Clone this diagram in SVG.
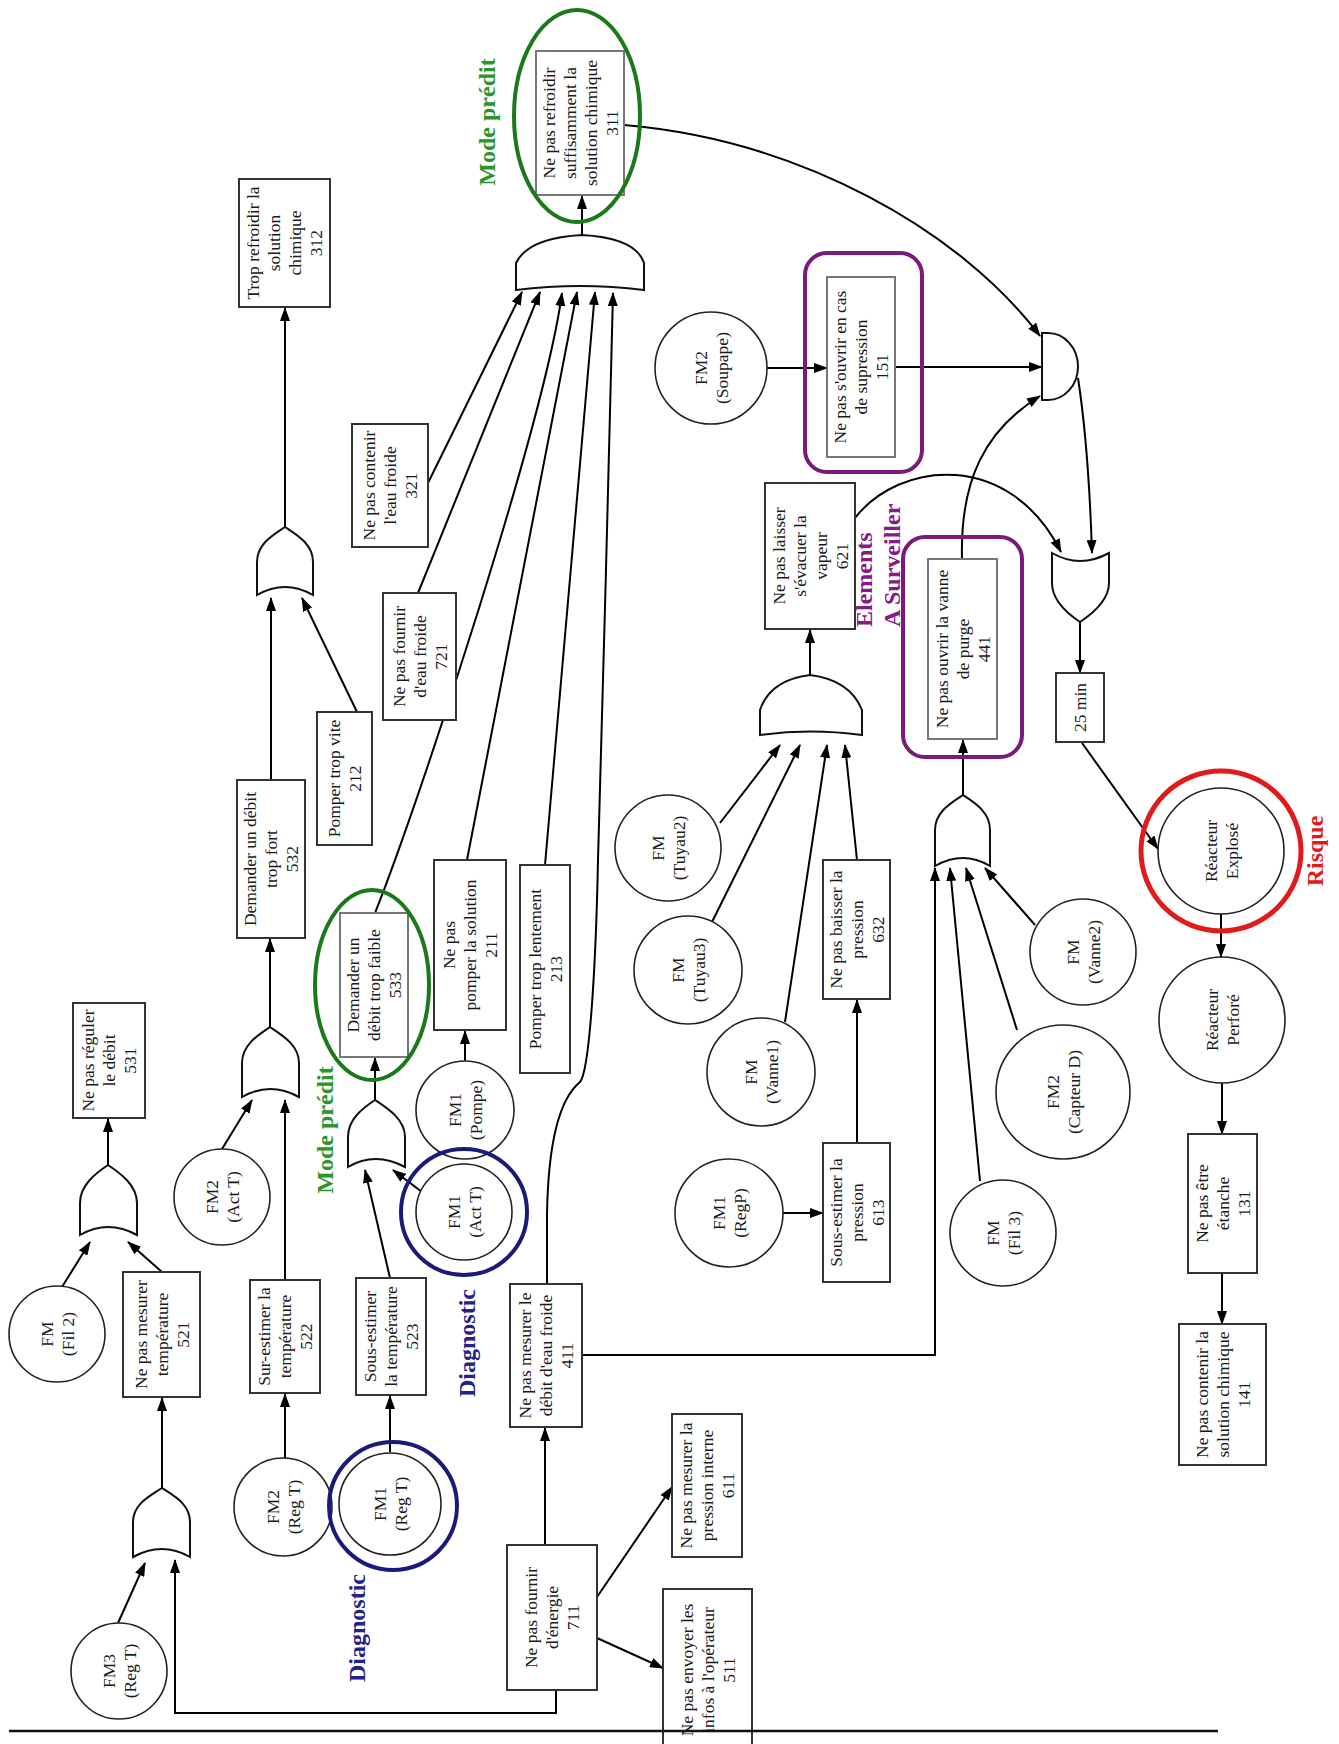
<svg xmlns="http://www.w3.org/2000/svg" width="1339" height="1744" viewBox="0 0 1339 1744">
<style>
.box{fill:#fff;stroke:#333;stroke-width:2}
.ibox{fill:#fff;stroke:#777;stroke-width:2}
.cir{fill:#fff;stroke:#222;stroke-width:1.6}
.gate{fill:#fff;stroke:#111;stroke-width:2}
.c{fill:none;stroke:#000;stroke-width:2;marker-end:url(#ah)}
.p{fill:none;stroke:#000;stroke-width:2}
.t{font-family:"Liberation Serif","Times New Roman",serif;font-size:17.5px;fill:#1a1a1a;text-anchor:middle;dominant-baseline:central}
.lb{font-family:"Liberation Serif","Times New Roman",serif;font-weight:bold;font-size:24px;text-anchor:middle;dominant-baseline:central}
.green{fill:#2a962a}.blue{fill:#22228a}.purple{fill:#861a86}.red{fill:#e01b1b}
.gring{fill:none;stroke:#1a7a1a;stroke-width:4}
.bring{fill:none;stroke:#1a1a7a;stroke-width:4}
.pring{fill:none;stroke:#7a1a7a;stroke-width:4}
.rring{fill:none;stroke:#e01b1b;stroke-width:5}
</style>
<defs>
<marker id="ah" viewBox="0 0 14 10" refX="13" refY="5" markerWidth="14" markerHeight="10" markerUnits="userSpaceOnUse" orient="auto"><path d="M0,0 L14,5 L0,10 Z" fill="#000"/></marker>
</defs>

<g id="connectors">
<path class="c" d="M285,527 L285,308"/>
<path class="c" d="M271,780 L271,598"/>
<path class="c" d="M357,712 L302,598"/>
<path class="c" d="M582,235 L582,196"/>
<path class="c" d="M428,483 L522,292"/>
<path class="c" d="M418,593 L540,292"/>
<path class="c" d="M375,913 C420,800 545,420 562,293"/>
<path class="c" d="M467,860 L577,292"/>
<path class="c" d="M545,865 L595,292"/>
<path class="c" d="M547,1284 L547,1215 C548,1150 558,1100 580,1082 C590,1070 596,960 598,860 C602,700 610,450 613,293"/>
<path class="c" d="M624,125 C800,140 960,230 1040,336"/>
<path class="c" d="M767,368 L827,368"/>
<path class="c" d="M895,367 L1042,367"/>
<path class="c" d="M962,559 C960,480 985,430 1040,396"/>
<path class="c" d="M1078,378 C1086,430 1090,490 1092,553"/>
<path class="c" d="M855,518 C900,460 1010,450 1061,552"/>
<path class="c" d="M1080,622 L1080,673"/>
<path class="c" d="M1082,743 L1158,849"/>
<path class="c" d="M1221,914 L1221,957"/>
<path class="c" d="M1222,1083 L1222,1134"/>
<path class="c" d="M1222,1273 L1222,1324"/>
<path class="c" d="M810,675 L810,630"/>
<path class="c" d="M720,823 L780,745"/>
<path class="c" d="M712,922 L800,745"/>
<path class="c" d="M785,1022 L827,745"/>
<path class="c" d="M857,860 L845,745"/>
<path class="c" d="M857,1143 L857,1000"/>
<path class="c" d="M783,1213 L823,1213"/>
<path class="c" d="M963,795 L963,740"/>
<path class="c" d="M582,1355 L935,1355 L935,868"/>
<path class="c" d="M980,1181 L950,868"/>
<path class="c" d="M1017,1030 L966,868"/>
<path class="c" d="M1035,925 L985,868"/>
<path class="c" d="M270,1027 L270,939"/>
<path class="c" d="M222,1149 L252,1100"/>
<path class="c" d="M285,1280 L285,1100"/>
<path class="c" d="M285,1458 L285,1394"/>
<path class="c" d="M375,1100 L375,1058"/>
<path class="c" d="M390,1278 L365,1170"/>
<path class="c" d="M422,1192 L393,1170"/>
<path class="c" d="M390,1452 L390,1396"/>
<path class="c" d="M465,1061 L465,1031"/>
<path class="c" d="M108,1165 L108,1119"/>
<path class="c" d="M62,1287 L90,1242"/>
<path class="c" d="M162,1272 L128,1242"/>
<path class="c" d="M162,1488 L162,1398"/>
<path class="c" d="M118,1623 L145,1563"/>
<path class="c" d="M556,1690 L556,1713 L175,1713 L175,1560"/>
<path class="c" d="M545,1545 L545,1428"/>
<path class="c" d="M597,1597 L672,1487"/>
<path class="c" d="M597,1638 L663,1668"/>
</g>

<g id="gates">
<path id="or312" class="gate" d="M257,595 L257,562 C257,544 273,535 285,527 C297,535 313,544 313,562 L313,595 Q285,579 257,595 Z"/>
<path id="or532" class="gate" d="M242,1097 L242,1063 C242,1045 258,1035 270,1027 C282,1035 299,1045 299,1063 L299,1097 Q270,1081 242,1097 Z"/>
<path id="or533" class="gate" d="M348,1167 L348,1137 C348,1119 363,1108 375,1100 C387,1108 405,1119 405,1137 L405,1167 Q375,1151 348,1167 Z"/>
<path id="or531" class="gate" d="M80,1235 L80,1203 C80,1185 96,1173 108,1165 C120,1173 137,1185 137,1203 L137,1235 Q108,1219 80,1235 Z"/>
<path id="or521" class="gate" d="M133,1557 L133,1522 C133,1504 150,1496 162,1488 C174,1496 190,1504 190,1522 L190,1557 Q162,1541 133,1557 Z"/>
<path id="or441" class="gate" d="M935,866 L935,830 C935,812 951,803 963,795 C975,803 990,812 990,830 L990,866 Q963,850 935,866 Z"/>
<path id="orout" class="gate" d="M1052,553 L1052,583 C1052,601 1068,614 1080,622 C1092,614 1109,601 1109,583 L1109,553 Q1080,569 1052,553 Z"/>
<path id="and311" class="gate" d="M516,290 L516,263 Q528,238 582,235 Q636,238 644,263 L644,290 Q580,282 516,290 Z"/>
<path id="and621" class="gate" d="M760,735 L760,710 Q770,680 810,675 Q850,680 862,710 L862,735 Q810,728 760,735 Z"/>
<path id="andright" class="gate" d="M1042,333 L1048,333 A30,33.5 0 0 1 1048,400 L1042,400 Z"/>
</g>

<g id="n312"><rect class="box" x="239" y="179" width="91" height="128"/><text class="t" transform="translate(284.5,243) rotate(-90)"><tspan x="0" y="-31.5">Trop refroidir la</tspan><tspan x="0" y="-10.5">solution</tspan><tspan x="0" y="10.5">chimique</tspan><tspan x="0" y="31.5">312</tspan></text></g>
<g id="n311"><rect class="ibox" x="536" y="51" width="88" height="144"/><text class="t" transform="translate(580,123) rotate(-90)"><tspan x="0" y="-31.5">Ne pas refroidir</tspan><tspan x="0" y="-10.5">suffisamment la</tspan><tspan x="0" y="10.5">solution chimique</tspan><tspan x="0" y="31.5">311</tspan></text></g>
<g id="n151"><rect class="ibox" x="827" y="277" width="68" height="180"/><text class="t" transform="translate(861,367) rotate(-90)"><tspan x="0" y="-21">Ne pas s'ouvrir en cas</tspan><tspan x="0" y="0">de supression</tspan><tspan x="0" y="21">151</tspan></text></g>
<g id="n321"><rect class="box" x="352" y="424" width="76" height="123"/><text class="t" transform="translate(390,485.5) rotate(-90)"><tspan x="0" y="-21">Ne pas contenir</tspan><tspan x="0" y="0">l'eau froide</tspan><tspan x="0" y="21">321</tspan></text></g>
<g id="n721"><rect class="box" x="383" y="593" width="73" height="127"/><text class="t" transform="translate(419.5,656.5) rotate(-90)"><tspan x="0" y="-21">Ne pas fournir</tspan><tspan x="0" y="0">d'eau froide</tspan><tspan x="0" y="21">721</tspan></text></g>
<g id="n621"><rect class="box" x="765" y="483" width="90" height="146"/><text class="t" transform="translate(810,556) rotate(-90)"><tspan x="0" y="-31.5">Ne pas laisser</tspan><tspan x="0" y="-10.5">s'évacuer la</tspan><tspan x="0" y="10.5">vapeur</tspan><tspan x="0" y="31.5">621</tspan></text></g>
<g id="n441"><rect class="ibox" x="928" y="559" width="69" height="180"/><text class="t" transform="translate(962.5,649) rotate(-90)"><tspan x="0" y="-21">Ne pas ouvrir la vanne</tspan><tspan x="0" y="0">de purge</tspan><tspan x="0" y="21">441</tspan></text></g>
<g id="n25"><rect class="box" x="1056" y="673" width="48" height="69"/><text class="t" transform="translate(1080,707.5) rotate(-90)"><tspan x="0" y="0">25 min</tspan></text></g>
<g id="n212"><rect class="box" x="317" y="712" width="55" height="133"/><text class="t" transform="translate(344.5,778.5) rotate(-90)"><tspan x="0" y="-10.5">Pomper trop vite</tspan><tspan x="0" y="10.5">212</tspan></text></g>
<g id="n532"><rect class="box" x="237" y="780" width="68" height="158"/><text class="t" transform="translate(271,859) rotate(-90)"><tspan x="0" y="-21">Demander un débit</tspan><tspan x="0" y="0">trop fort</tspan><tspan x="0" y="21">532</tspan></text></g>
<g id="n533"><rect class="ibox" x="340" y="913" width="68" height="144"/><text class="t" transform="translate(374,985) rotate(-90)"><tspan x="0" y="-21">Demander un</tspan><tspan x="0" y="0">débit trop faible</tspan><tspan x="0" y="21">533</tspan></text></g>
<g id="n211"><rect class="box" x="434" y="860" width="72" height="170"/><text class="t" transform="translate(470,945) rotate(-90)"><tspan x="0" y="-21">Ne pas</tspan><tspan x="0" y="0">pomper la solution</tspan><tspan x="0" y="21">211</tspan></text></g>
<g id="n213"><rect class="box" x="520" y="865" width="50" height="208"/><text class="t" transform="translate(545,969) rotate(-90)"><tspan x="0" y="-10.5">Pomper trop lentement</tspan><tspan x="0" y="10.5">213</tspan></text></g>
<g id="n632"><rect class="box" x="823" y="860" width="67" height="139"/><text class="t" transform="translate(856.5,929.5) rotate(-90)"><tspan x="0" y="-21">Ne pas baisser la</tspan><tspan x="0" y="0">pression</tspan><tspan x="0" y="21">632</tspan></text></g>
<g id="n531"><rect class="box" x="73" y="1003" width="72" height="115"/><text class="t" transform="translate(109,1060.5) rotate(-90)"><tspan x="0" y="-21">Ne pas réguler</tspan><tspan x="0" y="0">le débit</tspan><tspan x="0" y="21">531</tspan></text></g>
<g id="n613"><rect class="box" x="823" y="1143" width="67" height="139"/><text class="t" transform="translate(856.5,1212.5) rotate(-90)"><tspan x="0" y="-21">Sous-estimer la</tspan><tspan x="0" y="0">pression</tspan><tspan x="0" y="21">613</tspan></text></g>
<g id="n131"><rect class="box" x="1188" y="1134" width="69" height="139"/><text class="t" transform="translate(1222.5,1203.5) rotate(-90)"><tspan x="0" y="-21">Ne pas être</tspan><tspan x="0" y="0">étanche</tspan><tspan x="0" y="21">131</tspan></text></g>
<g id="n521"><rect class="box" x="123" y="1272" width="77" height="125"/><text class="t" transform="translate(161.5,1334.5) rotate(-90)"><tspan x="0" y="-21">Ne pas mesurer</tspan><tspan x="0" y="0">température</tspan><tspan x="0" y="21">521</tspan></text></g>
<g id="n522"><rect class="box" x="250" y="1280" width="70" height="113"/><text class="t" transform="translate(285,1336.5) rotate(-90)"><tspan x="0" y="-21">Sur-estimer la</tspan><tspan x="0" y="0">température</tspan><tspan x="0" y="21">522</tspan></text></g>
<g id="n523"><rect class="box" x="356" y="1278" width="70" height="117"/><text class="t" transform="translate(391,1336.5) rotate(-90)"><tspan x="0" y="-21">Sous-estimer</tspan><tspan x="0" y="0">la température</tspan><tspan x="0" y="21">523</tspan></text></g>
<g id="n411"><rect class="box" x="510" y="1284" width="72" height="143"/><text class="t" transform="translate(546,1355.5) rotate(-90)"><tspan x="0" y="-21">Ne pas mesurer le</tspan><tspan x="0" y="0">débit d'eau froide</tspan><tspan x="0" y="21">411</tspan></text></g>
<g id="n141"><rect class="box" x="1179" y="1324" width="87" height="141"/><text class="t" transform="translate(1222.5,1394.5) rotate(-90)"><tspan x="0" y="-21">Ne pas contenir la</tspan><tspan x="0" y="0">solution chimique</tspan><tspan x="0" y="21">141</tspan></text></g>
<g id="n611"><rect class="box" x="672" y="1414" width="70" height="143"/><text class="t" transform="translate(707,1485.5) rotate(-90)"><tspan x="0" y="-21">Ne pas mesurer la</tspan><tspan x="0" y="0">pression interne</tspan><tspan x="0" y="21">611</tspan></text></g>
<g id="n711"><rect class="box" x="507" y="1545" width="90" height="145"/><text class="t" transform="translate(552,1617.5) rotate(-90)"><tspan x="0" y="-21">Ne pas fournir</tspan><tspan x="0" y="0">d'énergie</tspan><tspan x="0" y="21">711</tspan></text></g>
<g id="n511"><rect class="box" x="663" y="1589" width="89" height="163"/><text class="t" transform="translate(707.5,1670) rotate(-90)"><tspan x="0" y="-21">Ne pas envoyer les</tspan><tspan x="0" y="0">infos à l'opérateur</tspan><tspan x="0" y="21">511</tspan></text></g>

<g id="fm2soupape"><circle class="cir" cx="711" cy="368" r="56"/><text class="t" transform="translate(711,368) rotate(-90)"><tspan x="0" y="-10.5">FM2</tspan><tspan x="0" y="10.5">(Soupape)</tspan></text></g>
<g id="fmtuyau2"><circle class="cir" cx="668" cy="848" r="53"/><text class="t" transform="translate(668,848) rotate(-90)"><tspan x="0" y="-10.5">FM</tspan><tspan x="0" y="10.5">(Tuyau2)</tspan></text></g>
<g id="fmtuyau3"><circle class="cir" cx="688" cy="970" r="54"/><text class="t" transform="translate(688,970) rotate(-90)"><tspan x="0" y="-10.5">FM</tspan><tspan x="0" y="10.5">(Tuyau3)</tspan></text></g>
<g id="fmvanne1"><circle class="cir" cx="761" cy="1072" r="54"/><text class="t" transform="translate(761,1072) rotate(-90)"><tspan x="0" y="-10.5">FM</tspan><tspan x="0" y="10.5">(Vanne1)</tspan></text></g>
<g id="fm1regp"><circle class="cir" cx="729" cy="1213" r="54"/><text class="t" transform="translate(729,1213) rotate(-90)"><tspan x="0" y="-10.5">FM1</tspan><tspan x="0" y="10.5">(RegP)</tspan></text></g>
<g id="fmvanne2"><circle class="cir" cx="1083" cy="952" r="53"/><text class="t" transform="translate(1083,952) rotate(-90)"><tspan x="0" y="-10.5">FM</tspan><tspan x="0" y="10.5">(Vanne2)</tspan></text></g>
<g id="fm2capteur"><circle class="cir" cx="1063" cy="1092" r="67"/><text class="t" transform="translate(1063,1092) rotate(-90)"><tspan x="0" y="-10.5">FM2</tspan><tspan x="0" y="10.5">(Capteur D)</tspan></text></g>
<g id="fmfil3"><circle class="cir" cx="1003" cy="1233" r="53"/><text class="t" transform="translate(1003,1233) rotate(-90)"><tspan x="0" y="-10.5">FM</tspan><tspan x="0" y="10.5">(Fil 3)</tspan></text></g>
<g id="explose"><circle class="cir" cx="1221" cy="851" r="63"/><text class="t" transform="translate(1221,851) rotate(-90)"><tspan x="0" y="-10.5">Réacteur</tspan><tspan x="0" y="10.5">Explosé</tspan></text></g>
<g id="perfore"><circle class="cir" cx="1222" cy="1020" r="63"/><text class="t" transform="translate(1222,1020) rotate(-90)"><tspan x="0" y="-10.5">Réacteur</tspan><tspan x="0" y="10.5">Perforé</tspan></text></g>
<g id="fm1pompe"><circle class="cir" cx="465" cy="1110" r="49"/><text class="t" transform="translate(465,1110) rotate(-90)"><tspan x="0" y="-10.5">FM1</tspan><tspan x="0" y="10.5">(Pompe)</tspan></text></g>
<g id="fm1actt"><circle class="cir" cx="464" cy="1212" r="48"/><text class="t" transform="translate(464,1212) rotate(-90)"><tspan x="0" y="-10.5">FM1</tspan><tspan x="0" y="10.5">(Act T)</tspan></text></g>
<g id="fm2actt"><circle class="cir" cx="222" cy="1197" r="48"/><text class="t" transform="translate(222,1197) rotate(-90)"><tspan x="0" y="-10.5">FM2</tspan><tspan x="0" y="10.5">(Act T)</tspan></text></g>
<g id="fmfil2"><circle class="cir" cx="57" cy="1334" r="48"/><text class="t" transform="translate(57,1334) rotate(-90)"><tspan x="0" y="-10.5">FM</tspan><tspan x="0" y="10.5">(Fil 2)</tspan></text></g>
<g id="fm3regt"><circle class="cir" cx="119" cy="1671" r="48"/><text class="t" transform="translate(119,1671) rotate(-90)"><tspan x="0" y="-10.5">FM3</tspan><tspan x="0" y="10.5">(Reg T)</tspan></text></g>
<g id="fm2regt"><circle class="cir" cx="283" cy="1507" r="49"/><text class="t" transform="translate(283,1507) rotate(-90)"><tspan x="0" y="-10.5">FM2</tspan><tspan x="0" y="10.5">(Reg T)</tspan></text></g>
<g id="fm1regt"><circle class="cir" cx="390" cy="1504" r="51"/><text class="t" transform="translate(390,1504) rotate(-90)"><tspan x="0" y="-10.5">FM1</tspan><tspan x="0" y="10.5">(Reg T)</tspan></text></g>

<g id="highlights">
<ellipse class="gring" cx="577" cy="116" rx="63" ry="106"/>
<ellipse class="gring" cx="372" cy="985" rx="57" ry="95"/>
<rect class="pring" x="805" y="253" width="117" height="219" rx="22"/>
<rect class="pring" x="903" y="537" width="119" height="220" rx="22"/>
<circle class="bring" cx="464" cy="1212" r="63"/>
<circle class="bring" cx="393" cy="1506" r="64"/>
<circle class="rring" cx="1221" cy="851" r="80"/>
</g>

<g id="labels">
<text class="lb green" transform="translate(487,122) rotate(-90)">Mode prédit</text>
<text class="lb green" transform="translate(325,1130) rotate(-90)">Mode prédit</text>
<text class="lb blue" transform="translate(467,1343) rotate(-90)">Diagnostic</text>
<text class="lb blue" transform="translate(357,1628) rotate(-90)">Diagnostic</text>
<text class="lb purple" style="text-anchor:start" transform="translate(864,627) rotate(-90)">Elements</text>
<text class="lb purple" style="text-anchor:start" transform="translate(892,627) rotate(-90)">A Surveiller</text>
<text class="lb red" transform="translate(1315,851) rotate(-90)">Risque</text>
</g>

<line x1="9" y1="1731" x2="1218" y2="1731" stroke="#111" stroke-width="2.5"/>
</svg>
